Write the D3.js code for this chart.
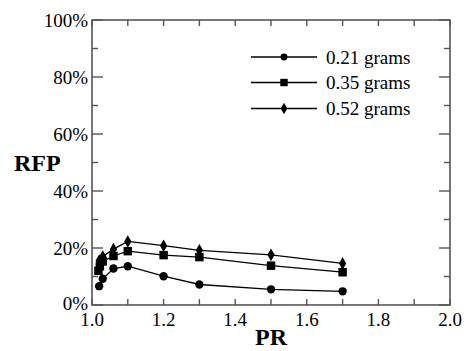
<!DOCTYPE html>
<html><head><meta charset="utf-8">
<script src="https://cdn.jsdelivr.net/npm/d3@7"></script>
<style>body{margin:0;background:#fff}svg{display:block}</style>
</head><body><svg id="c" width="467" height="351"></svg>
<script>
const seriesNames = ["0.21 grams", "0.35 grams", "0.52 grams"];
const prCircle = [1.02, 1.03, 1.06, 1.10, 1.20, 1.30, 1.50, 1.70];
const rfpCircle = [6.6, 9.2, 12.8, 13.6, 10.1, 7.2, 5.5, 4.8];
const prSquare = [1.018, 1.022, 1.03, 1.06, 1.10, 1.20, 1.30, 1.50, 1.70];
const rfpSquare = [12.0, 13.6, 15.3, 17.2, 18.9, 17.5, 16.8, 13.8, 11.5];
const prDiamond = [1.02, 1.03, 1.06, 1.10, 1.20, 1.30, 1.50, 1.70];
const rfpDiamond = [15.6, 17.0, 19.6, 22.3, 20.8, 19.2, 17.6, 14.6];
const xTickLabels = ["1.0", "1.2", "1.4", "1.6", "1.8", "2.0"];
const yTickLabels = ["0%", "20%", "40%", "60%", "80%", "100%"];

const FONT = "'Liberation Serif', 'Times New Roman', 'DejaVu Serif', serif";
const svg = d3.select("#c").attr("font-family", FONT);
const L = 92, R = 450, T = 20, B = 305;
const x = d3.scaleLinear().domain([1.0, 2.0]).range([L, R]);
const y = d3.scaleLinear().domain([0, 100]).range([B, T]);

const axisCol = "#555";
const g = svg.append("g");
d3.range(0, 11).forEach(i => {
  const v = 1 + i * 0.1;
  const len = 6;
  g.append("line").attr("x1", x(v)).attr("x2", x(v)).attr("y1", B).attr("y2", B - len).attr("stroke", axisCol).attr("stroke-width", 1.4);
  g.append("line").attr("x1", x(v)).attr("x2", x(v)).attr("y1", T).attr("y2", T + len).attr("stroke", axisCol).attr("stroke-width", 1.4);
});
d3.range(0, 11).forEach(i => {
  const v = i * 10;
  const len = i % 2 === 0 ? 11 : 6;
  g.append("line").attr("x1", L).attr("x2", L + len).attr("y1", y(v)).attr("y2", y(v)).attr("stroke", axisCol).attr("stroke-width", 1.4);
  g.append("line").attr("x1", R).attr("x2", R - len).attr("y1", y(v)).attr("y2", y(v)).attr("stroke", axisCol).attr("stroke-width", 1.4);
});
svg.append("rect").attr("x", L).attr("y", T).attr("width", R - L).attr("height", B - T)
  .attr("fill", "none").attr("stroke", axisCol).attr("stroke-width", 1.6);

xTickLabels.forEach(t => {
  svg.append("text").attr("x", x(+t)).attr("y", 326).attr("text-anchor", "middle")
    .attr("font-size", 19).attr("font-family", FONT).text(t);
});
yTickLabels.forEach(t => {
  svg.append("text").attr("x", 88).attr("y", y(parseFloat(t)) - (t === "0%" ? 2 : 0)).attr("dy", "0.35em")
    .attr("text-anchor", "end").attr("font-size", 19).attr("font-family", FONT).text(t);
});
svg.append("text").attr("x", 271).attr("y", 345).attr("text-anchor", "middle")
  .attr("font-size", 24).attr("font-weight", "bold").attr("font-family", FONT).text("PR");
svg.append("text").attr("x", 14).attr("y", 171)
  .attr("font-size", 24).attr("font-weight", "bold").attr("font-family", FONT).text("RFP");

const sym = [d3.symbolCircle, d3.symbolSquare, d3.symbolDiamond];
const symSize = [55, 72, 46];
const data = [
  prCircle.map((p, i) => [p, rfpCircle[i]]),
  prSquare.map((p, i) => [p, rfpSquare[i]]),
  prDiamond.map((p, i) => [p, rfpDiamond[i]])
];
const line = d3.line().x(d => x(d[0])).y(d => y(d[1]));
data.forEach((d, k) => {
  svg.append("path").attr("d", line(d)).attr("fill", "none").attr("stroke", "#000").attr("stroke-width", 1.3);
  svg.selectAll(null).data(d).enter().append("path")
    .attr("d", d3.symbol().type(sym[k]).size(symSize[k]))
    .attr("transform", p => `translate(${x(p[0])},${y(p[1])})`)
    .attr("fill", "#000");
});

const legY = [57, 82.5, 108.5];
seriesNames.forEach((n, k) => {
  svg.append("line").attr("x1", 251).attr("x2", 317).attr("y1", legY[k]).attr("y2", legY[k])
    .attr("stroke", "#000").attr("stroke-width", 1.3);
  svg.append("path").attr("d", d3.symbol().type(sym[k]).size(k === 1 ? 55 : 38))
    .attr("transform", `translate(284,${legY[k]})`).attr("fill", "#000");
  svg.append("text").attr("x", 326).attr("y", legY[k]).attr("dy", "0.35em")
    .attr("font-size", 19).attr("font-family", FONT).text(n);
});
</script></body></html>
